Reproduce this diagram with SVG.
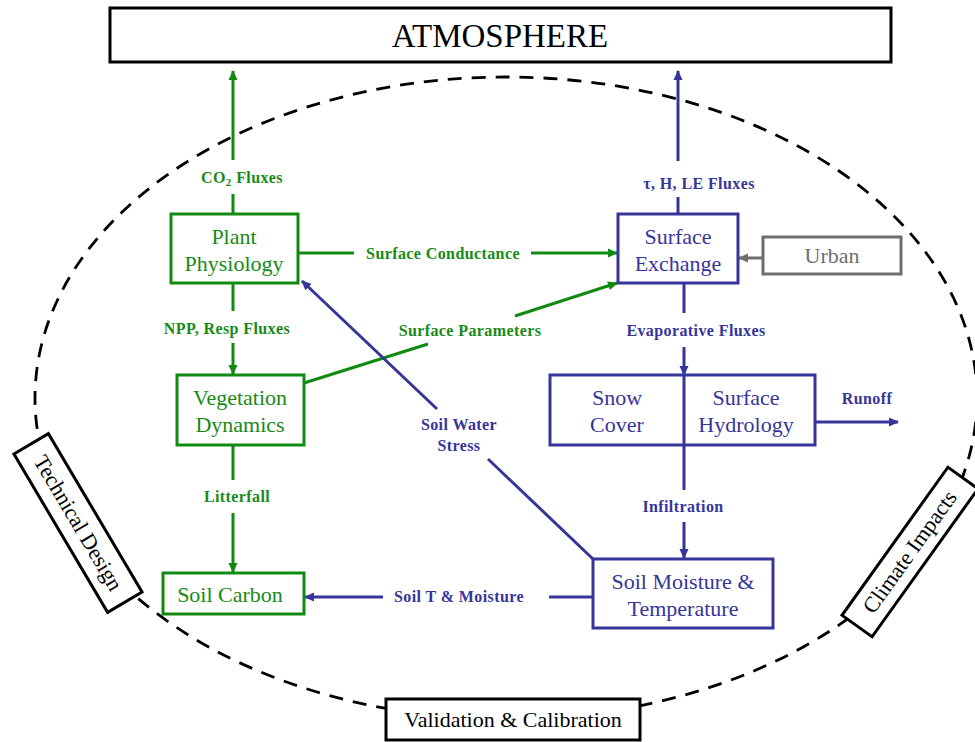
<svg xmlns="http://www.w3.org/2000/svg" width="975" height="742" viewBox="0 0 975 742">
<style>
.bg{fill:#fff}
.node{font-family:"Liberation Serif","Times New Roman",serif;font-size:22px;text-anchor:middle}
.lbl{font-family:"Liberation Serif","Times New Roman",serif;font-size:16px;font-weight:bold;text-anchor:middle;letter-spacing:0.4px}
.g{fill:#178a17}
.b{fill:#35359a}
.gb{fill:#fff;stroke:#108a10;stroke-width:3}
.bb{fill:#fff;stroke:#35359a;stroke-width:3}
.kb{fill:#fff;stroke:#000;stroke-width:3}
.gl{stroke:#108a10;stroke-width:3;fill:none}
.bl{stroke:#35359a;stroke-width:3;fill:none}
</style>
<defs>
<marker id="ag" markerWidth="10" markerHeight="10" refX="9" refY="5" orient="auto" markerUnits="userSpaceOnUse"><path d="M0,0.5 L10,5 L0,9.5 z" fill="#108a10"/></marker>
<marker id="ab" markerWidth="10" markerHeight="10" refX="9" refY="5" orient="auto" markerUnits="userSpaceOnUse"><path d="M0,0.5 L10,5 L0,9.5 z" fill="#35359a"/></marker>
<marker id="ak" markerWidth="10" markerHeight="10" refX="9" refY="5" orient="auto" markerUnits="userSpaceOnUse"><path d="M0,0.5 L10,5 L0,9.5 z" fill="#6e6e6e"/></marker>
</defs>
<rect class="bg" x="0" y="0" width="975" height="742"/>
<ellipse id="loop" cx="506" cy="398" rx="471" ry="321" fill="none" stroke="#000" stroke-width="2.8" stroke-dasharray="14 10"/>

<g id="connectors">
  <line class="gl" x1="233" y1="214" x2="233" y2="194"/>
  <line class="gl" x1="233" y1="160" x2="233" y2="71" marker-end="url(#ag)"/>
  <line class="bl" x1="678" y1="214" x2="678" y2="197"/>
  <line class="bl" x1="678" y1="161" x2="678" y2="71" marker-end="url(#ab)"/>
  <line class="gl" x1="298" y1="253" x2="354" y2="253"/>
  <line class="gl" x1="531" y1="253" x2="617" y2="253" marker-end="url(#ag)"/>
  <line x1="763" y1="258" x2="739" y2="258" stroke="#6e6e6e" stroke-width="3" marker-end="url(#ak)"/>
  <line class="gl" x1="233" y1="283" x2="233" y2="311"/>
  <line class="gl" x1="233" y1="343" x2="233" y2="374" marker-end="url(#ag)"/>
  <line class="gl" x1="304" y1="383" x2="428" y2="344"/>
  <line class="gl" x1="515" y1="316" x2="617" y2="283" marker-end="url(#ag)"/>
  <line class="bl" x1="684" y1="283" x2="684" y2="313"/>
  <line class="bl" x1="684" y1="347" x2="684" y2="375" marker-end="url(#ab)"/>
  <line class="bl" x1="593" y1="559" x2="488" y2="459"/>
  <line class="bl" x1="437" y1="409" x2="302" y2="281" marker-end="url(#ab)"/>
  <line class="bl" x1="815" y1="422" x2="898" y2="422" marker-end="url(#ab)"/>
  <line class="bl" x1="684" y1="445" x2="684" y2="490"/>
  <line class="bl" x1="684" y1="522" x2="684" y2="558" marker-end="url(#ab)"/>
  <line class="gl" x1="233" y1="445" x2="233" y2="480"/>
  <line class="gl" x1="233" y1="513" x2="233" y2="572" marker-end="url(#ag)"/>
  <line class="bl" x1="593" y1="597" x2="549" y2="597"/>
  <line class="bl" x1="383" y1="597" x2="305" y2="597" marker-end="url(#ab)"/>
</g>

<g id="labels">
  <text class="lbl g" x="242" y="183">CO<tspan font-size="11" dy="3">2</tspan><tspan dy="-3"> Fluxes</tspan></text>
  <text class="lbl b" x="699" y="189">τ, H, LE Fluxes</text>
  <text class="lbl g" x="443" y="259">Surface Conductance</text>
  <text class="lbl g" x="227" y="334">NPP, Resp Fluxes</text>
  <text class="lbl g" x="470" y="336">Surface Parameters</text>
  <text class="lbl b" x="696" y="336">Evaporative Fluxes</text>
  <text class="lbl b" x="867" y="404">Runoff</text>
  <text class="lbl b" x="459" y="430">Soil Water</text>
  <text class="lbl b" x="459" y="451">Stress</text>
  <text class="lbl g" x="237" y="502">Litterfall</text>
  <text class="lbl b" x="683" y="512">Infiltration</text>
  <text class="lbl b" x="459" y="602">Soil T &amp; Moisture</text>
</g>

<g id="atmosphere">
  <rect class="kb" x="110" y="8" width="781" height="54"/>
  <text x="500" y="47" font-family="Liberation Serif, Times New Roman, serif" font-size="33" text-anchor="middle">ATMOSPHERE</text>
</g>

<g id="plant-physiology">
  <rect class="gb" x="171" y="214" width="127" height="69"/>
  <text class="node g" x="234" y="244">Plant</text>
  <text class="node g" x="234" y="271">Physiology</text>
</g>

<g id="surface-exchange">
  <rect class="bb" x="618" y="214" width="120" height="69"/>
  <text class="node b" x="678" y="244">Surface</text>
  <text class="node b" x="678" y="271">Exchange</text>
</g>

<g id="urban">
  <rect x="763" y="237" width="138" height="37" fill="#fff" stroke="#6e6e6e" stroke-width="3"/>
  <text class="node" x="832" y="263" fill="#6e6e6e">Urban</text>
</g>

<g id="vegetation-dynamics">
  <rect class="gb" x="177" y="375" width="127" height="70"/>
  <text class="node g" x="240" y="405">Vegetation</text>
  <text class="node g" x="240" y="432">Dynamics</text>
</g>

<g id="snow-hydrology">
  <rect class="bb" x="550" y="375" width="265" height="70"/>
  <line x1="684" y1="375" x2="684" y2="445" stroke="#35359a" stroke-width="3"/>
  <text class="node b" x="617" y="405">Snow</text>
  <text class="node b" x="617" y="432">Cover</text>
  <text class="node b" x="746" y="405">Surface</text>
  <text class="node b" x="746" y="432">Hydrology</text>
</g>

<g id="soil-carbon">
  <rect class="gb" x="163" y="573" width="141" height="41"/>
  <text class="node g" x="230" y="602">Soil Carbon</text>
</g>

<g id="soil-moisture">
  <rect class="bb" x="593" y="559" width="180" height="69"/>
  <text class="node b" x="683" y="589">Soil Moisture &amp;</text>
  <text class="node b" x="683" y="616">Temperature</text>
</g>

<g id="technical-design" transform="translate(78,523) rotate(59.4)">
  <rect class="kb" x="-92" y="-20" width="184" height="40"/>
  <text class="node" x="0" y="7">Technical Design</text>
</g>

<g id="climate-impacts" transform="translate(910,552) rotate(-54.4)">
  <rect class="kb" x="-91" y="-18.5" width="182" height="37"/>
  <text class="node" x="0" y="7">Climate Impacts</text>
</g>

<g id="validation">
  <rect class="kb" x="386" y="699" width="254" height="41"/>
  <text class="node" x="513" y="727">Validation &amp; Calibration</text>
</g>
</svg>
